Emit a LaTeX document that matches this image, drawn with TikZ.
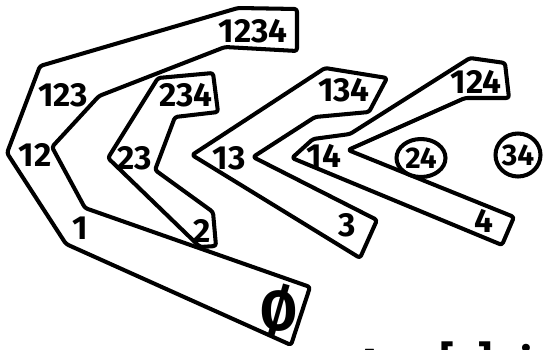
\documentclass[tikz,border=0pt]{standalone}
\usepackage{fontspec}
\setmainfont{Fira Sans}
\usetikzlibrary{shapes.geometric}

\tikzset{
  band/.style={line width=2.3pt,line join=round,rounded corners=1.5pt},
  set/.style={font=\fontsize{19}{19}\selectfont\bfseries,inner sep=0pt},
  ring/.style={draw,line width=2.3pt,ellipse,fill=white,inner sep=0pt},
  note/.style={font=\fontsize{24}{24}\selectfont\bfseries,inner sep=0pt,anchor=base}
}

\begin{document}
\begin{tikzpicture}[x=0.02cm,y=-0.02cm,line cap=round]
  \useasboundingbox (0,0) rectangle (544,349);
  % chain: empty set up to 1234
  \draw[band] (7,153) -- (40,66) -- (238,8) -- (297,9) -- (297,51) -- (225,47)
    -- (99,96) -- (52,147) -- (85,208) -- (310,287) -- (291,345) -- (66,244) -- cycle;
  % chain: 2, 23, 234
  \draw[band] (108,158) -- (158,78) -- (213,73) -- (218,112) -- (175,117)
    -- (155,170) -- (213,212) -- (216,246) -- (200,247) -- cycle;
  % chain: 3, 13, 134
  \draw[band] (192,155) -- (325,68) -- (387,78) -- (369,112) -- (315,117)
    -- (253,157) -- (377,220) -- (360,258) -- cycle;
  % chain: 4, 14, 124
  \draw[band] (292,158) -- (313,139) -- (350,134) -- (470,58) -- (505,63)
    -- (509,98) -- (465,98) -- (348,150) -- (514,217) -- (502,245) -- cycle;
  % singletons
  \node[ring,minimum width=0.98cm,minimum height=0.76cm] (r24) at (421,158) {};
  \node[ring,minimum width=0.90cm,minimum height=0.86cm] (r34) at (518,155) {};

  \node[set] (n1234) at (253,31) {1234};
  \node[set] (n123) at (63,95) {123};
  \node[set] (n12) at (35,155) {12};
  \node[set] (n1) at (80,228) {1};
  \node[inner sep=0pt,font=\fontsize{32}{32}\selectfont\bfseries] (n0) at (279,311)
    {\scalebox{0.95}[1]{Ø}};
  \node[set] (n234) at (186,95) {234};
  \node[set] (n23) at (135,158) {23};
  \node[set] (n2) at (202,231) {2};
  \node[set] (n134) at (344,90) {134};
  \node[set] (n13) at (229,158) {13};
  \node[set] (n3) at (347,225) {3};
  \node[set] (n124) at (476,82) {124};
  \node[set] (n14) at (324,156) {14};
  \node[set] (n4) at (484,221) {4};
  \node[set,font=\fontsize{17}{17}\selectfont\bfseries] (n24) at (r24) {24};
  \node[set,font=\fontsize{17}{17}\selectfont\bfseries] (n34) at (r34) {34};

  % text running off the bottom edge
  \begin{scope}
    \clip (0,0) rectangle (544,349);
    \node[note] (tA) at (370,378) {A};
    \node[note] (tsub) at (421,378) {$\subseteq$};
    \node[note] (tn) at (466,376) {[n]};
    \node[note,anchor=base west] (tis) at (520,378) {is};
  \end{scope}
\end{tikzpicture}
\end{document}
